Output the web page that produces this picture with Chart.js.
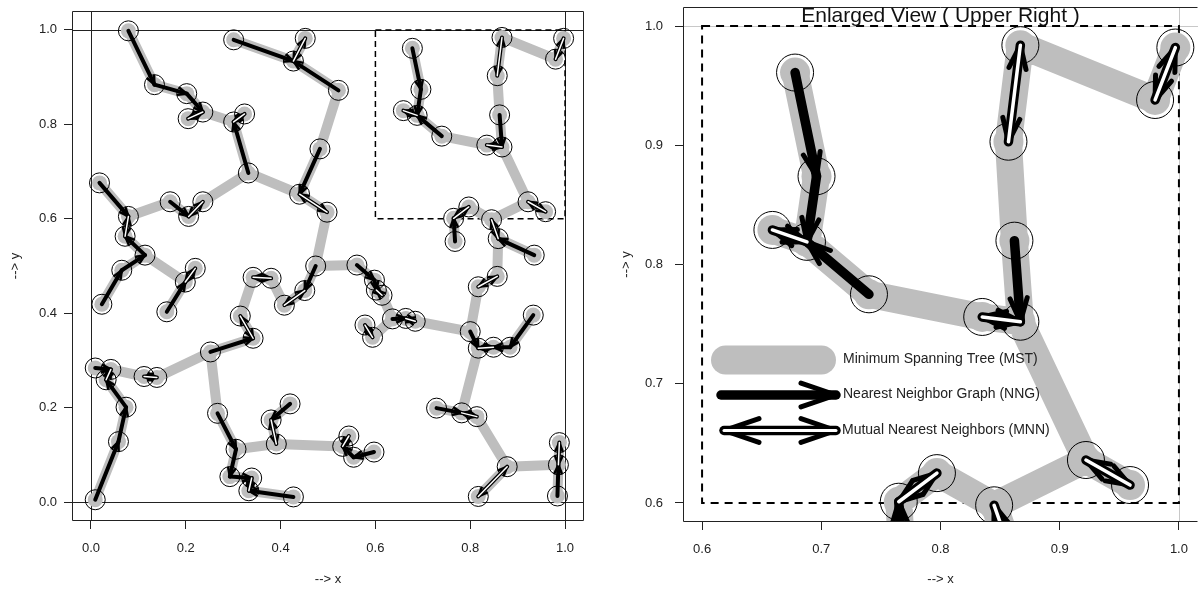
<!DOCTYPE html>
<html><head><meta charset="utf-8">
<script src="https://cdn.jsdelivr.net/npm/chart.js@4"></script>
<style>
html,body{margin:0;padding:0;background:#fff;width:1198px;height:590px;overflow:hidden}
#c1{position:absolute;left:0;top:0}
#c2{position:absolute;left:600px;top:0}
</style></head><body>
<canvas id="c1" width="600" height="590"></canvas>
<canvas id="c2" width="598" height="590"></canvas>
<script>
const FONT = "'Liberation Sans', Arial, Helvetica, sans-serif";

// point coordinates
const xs = [0.079,0.134,0.202,0.236,0.205,0.324,0.301,0.332,0.301,0.452,
            0.427,0.018,0.079,0.072,0.167,0.206,0.236,0.440,0.522,0.483,
            0.498,0.678,0.696,0.659,0.688,0.740,0.867,0.857,0.862,0.835,
            0.867,0.997,0.980,0.922,0.959,0.797,0.765,0.768,0.845,0.859,
            0.935,0.114,0.065,0.023,0.220,0.199,0.160,0.342,0.380,0.408,
            0.451,0.474,0.315,0.342,0.252,0.009,0.042,0.032,0.112,0.139,
            0.074,0.058,0.009,0.267,0.306,0.293,0.339,0.333,0.427,0.420,
            0.380,0.391,0.561,0.598,0.602,0.614,0.636,0.664,0.684,0.578,
            0.594,0.800,0.817,0.849,0.884,0.933,0.817,0.857,0.729,0.782,
            0.814,0.878,0.817,0.988,0.986,0.984,0.544,0.531,0.554,0.597];
const ys = [0.998,0.884,0.865,0.826,0.812,0.822,0.805,0.697,0.979,0.982,
            0.934,0.676,0.605,0.563,0.636,0.605,0.636,0.652,0.872,0.748,
            0.614,0.961,0.874,0.829,0.819,0.775,0.984,0.903,0.820,0.756,
            0.752,0.982,0.938,0.636,0.615,0.625,0.601,0.552,0.598,0.558,
            0.523,0.523,0.491,0.419,0.495,0.466,0.403,0.476,0.474,0.417,
            0.448,0.500,0.394,0.347,0.318,0.284,0.281,0.259,0.266,0.264,
            0.201,0.128,0.005,0.188,0.112,0.054,0.051,0.024,0.011,0.208,
            0.174,0.123,0.502,0.470,0.449,0.438,0.388,0.389,0.383,0.375,
            0.349,0.361,0.326,0.328,0.328,0.396,0.456,0.478,0.199,0.189,
            0.181,0.075,0.012,0.126,0.079,0.013,0.140,0.118,0.095,0.106];

const leftTicks = [0.0, 0.2, 0.4, 0.6, 0.8, 1.0];
const rightTicks = [0.6, 0.7, 0.8, 0.9, 1.0];
const refValues = [0, 1];
const zoomBox = [0.6, 0.6, 1.0, 1.0];
const titleText = 'Enlarged View ( Upper Right )';
const legendLabels = ['Minimum Spanning Tree (MST)', 'Nearest Neighbor Graph (NNG)', 'Mutual Nearest Neighbors (MNN)'];

// ---- graphs from the points ----
const n = xs.length;
const d2 = (i, j) => { const dx = xs[i]-xs[j], dy = ys[i]-ys[j]; return dx*dx+dy*dy; };
const nn = xs.map((_, i) => { let b=-1, bd=Infinity; for (let j=0;j<n;j++) if (j!==i) { const d=d2(i,j); if (d<bd){bd=d;b=j;} } return b; });
const mst = [];
(function(){
  const inT = new Array(n).fill(false), best = new Array(n).fill(Infinity), par = new Array(n).fill(-1);
  best[0] = 0;
  for (let k=0;k<n;k++){
    let u=-1; for (let i=0;i<n;i++) if(!inT[i] && (u<0 || best[i]<best[u])) u=i;
    inT[u]=true; if (par[u]>=0) mst.push([par[u],u]);
    for (let v=0;v<n;v++) if(!inT[v]) { const d=d2(u,v); if (d<best[v]) {best[v]=d; par[v]=u;} }
  }
})();
const single = [], mutual = [];
for (let i=0;i<n;i++){ const j=nn[i]; if (nn[j]===i) { if (i<j) mutual.push([i,j]); } else single.push([i,j]); }
const pts = xs.map((x,i)=>({x, y: ys[i]}));

function head(ctx, x1,y1,x2,y2,len,ang){
  const a = Math.atan2(y2-y1, x2-x1);
  ctx.beginPath();
  ctx.moveTo(x2 - len*Math.cos(a-ang), y2 - len*Math.sin(a-ang));
  ctx.lineTo(x2, y2);
  ctx.lineTo(x2 - len*Math.cos(a+ang), y2 - len*Math.sin(a+ang));
  ctx.stroke();
}
function arrow(ctx, x1,y1,x2,y2,o,both){
  ctx.strokeStyle='#000'; ctx.lineCap='round'; ctx.lineJoin='round';
  ctx.lineWidth=o.shaftW;
  ctx.beginPath(); ctx.moveTo(x1,y1); ctx.lineTo(x2,y2); ctx.stroke();
  ctx.lineWidth=o.armW;
  head(ctx,x1,y1,x2,y2,o.headLen,o.headAng);
  if (both) {
    head(ctx,x2,y2,x1,y1,o.headLen,o.headAng);
    ctx.strokeStyle='#fff'; ctx.lineWidth=o.whiteW;
    ctx.beginPath(); ctx.moveTo(x1,y1); ctx.lineTo(x2,y2); ctx.stroke();
  }
}

const netPlugin = {
  id: 'net',
  beforeDatasetsDraw(chart, args, o) {
    const {ctx, chartArea:a, scales:{x, y}} = chart;
    ctx.save();
    ctx.beginPath(); ctx.rect(a.left, a.top, a.right-a.left, a.bottom-a.top); ctx.clip();
    ctx.strokeStyle = o.refColor; ctx.lineWidth = 1;
    for (const v of refValues) {
      const px = Math.round(x.getPixelForValue(v))+0.5, py = Math.round(y.getPixelForValue(v))+0.5;
      ctx.beginPath(); ctx.moveTo(px, a.top); ctx.lineTo(px, a.bottom); ctx.stroke();
      ctx.beginPath(); ctx.moveTo(a.left, py); ctx.lineTo(a.right, py); ctx.stroke();
    }
    ctx.strokeStyle = '#000'; ctx.lineWidth = o.dashW; ctx.setLineDash(o.dash);
    const bx1 = x.getPixelForValue(zoomBox[0]), by1 = y.getPixelForValue(zoomBox[1]);
    const bx2 = x.getPixelForValue(zoomBox[2]), by2 = y.getPixelForValue(zoomBox[3]);
    ctx.strokeRect(bx1, by2, bx2-bx1, by1-by2);
    ctx.setLineDash([]);
    ctx.strokeStyle = '#bebebe'; ctx.lineWidth = o.mstW; ctx.lineCap = 'round';
    ctx.beginPath();
    for (const [i,j] of mst) {
      ctx.moveTo(x.getPixelForValue(xs[i]), y.getPixelForValue(ys[i]));
      ctx.lineTo(x.getPixelForValue(xs[j]), y.getPixelForValue(ys[j]));
    }
    ctx.stroke();
    ctx.restore();
  },
  afterDatasetsDraw(chart, args, o) {
    const {ctx, chartArea:a, scales:{x, y}} = chart;
    ctx.save();
    ctx.beginPath(); ctx.rect(a.left, a.top, a.right-a.left, a.bottom-a.top); ctx.clip();
    const P = i => [x.getPixelForValue(xs[i]), y.getPixelForValue(ys[i])];
    for (const [i,j] of single) { const [x1,y1]=P(i), [x2,y2]=P(j); arrow(ctx,x1,y1,x2,y2,o,false); }
    for (const [i,j] of mutual) { const [x1,y1]=P(i), [x2,y2]=P(j); arrow(ctx,x1,y1,x2,y2,o,true); }
    ctx.restore();
  },
  afterDraw(chart, args, o) {
    const {ctx, chartArea:a} = chart;
    ctx.save();
    ctx.strokeStyle = '#222'; ctx.lineWidth = 1;
    const L = Math.round(a.left)+0.5, T = Math.round(a.top)+0.5, B = Math.round(a.bottom)-0.5, R = Math.round(a.right)-0.5;
    ctx.beginPath();
    ctx.moveTo(L, T); ctx.lineTo(L, B); ctx.lineTo(R, B);
    ctx.moveTo(L, T); ctx.lineTo(R, T);
    if (o.rightBorder) { ctx.moveTo(R, T); ctx.lineTo(R, B); }
    ctx.stroke();
    if (o.title) {
      ctx.fillStyle = '#111'; ctx.font = '21px ' + FONT; ctx.textAlign = 'center'; ctx.textBaseline = 'middle';
      ctx.fillText(titleText, (a.left + a.right) / 2, 16);
    }
    if (o.legend) {
      const lx = 111, lr = 236;
      ctx.lineCap = 'round';
      ctx.strokeStyle = '#bebebe'; ctx.lineWidth = 29;
      ctx.beginPath(); ctx.moveTo(lx+14.5, 360); ctx.lineTo(lr-14.5, 360); ctx.stroke();
      const lo = {shaftW: 9.5, armW: 5, headLen: 37, headAng: 0.33, whiteW: 3};
      arrow(ctx, 121, 395, lr, 395, lo, false);
      arrow(ctx, 124, 430.5, lr, 430.5, lo, true);
      ctx.fillStyle = '#222'; ctx.font = '14px ' + FONT; ctx.textAlign = 'left'; ctx.textBaseline = 'middle';
      ctx.fillText(legendLabels[0], 243, 359);
      ctx.fillText(legendLabels[1], 243, 394);
      ctx.fillText(legendLabels[2], 242, 430);
    }
    ctx.restore();
  }
};

function makeChart(id, cfg) {
  const tickFont = {family: FONT, size: 13};
  const axis = (ticksArr, min, max, sizeFn, pad, titleText, titlePad) => ({
    type: 'linear', min, max,
    afterBuildTicks: s => { s.ticks = ticksArr.map(v => ({value: v})); },
    afterFit: sizeFn,
    grid: {display: true, drawOnChartArea: false, drawTicks: true, tickLength: 8, tickColor: '#222', tickWidth: 1},
    border: {display: false},
    ticks: {callback: v => Number(v).toFixed(1), font: tickFont, color: '#222', padding: pad, maxRotation: 0, autoSkip: false},
    title: {display: true, text: titleText, font: tickFont, color: '#222', padding: titlePad}
  });
  return new Chart(document.getElementById(id), {
    type: 'scatter',
    data: {datasets: [
      {data: pts, pointRadius: cfg.diskR, pointBackgroundColor: '#bebebe', pointBorderWidth: 0, pointBorderColor: 'rgba(0,0,0,0)', clip: 0, order: 2},
      {data: pts, pointRadius: cfg.circR, pointBackgroundColor: 'rgba(0,0,0,0)', pointBorderColor: '#000', pointBorderWidth: 1, clip: 0, order: 1}
    ]},
    options: {
      responsive: false, animation: false, events: [],
      layout: {padding: cfg.padding, autoPadding: false},
      plugins: {legend: {display: false}, tooltip: {enabled: false}, net: cfg.net},
      scales: {
        x: axis(cfg.ticks, cfg.min, cfg.max, s => { s.height = cfg.xH; s.paddingLeft = 0; s.paddingRight = 0; }, cfg.xPad, '--> x', {top: 0, bottom: 3}),
        y: axis(cfg.ticks, cfg.min, cfg.max, s => { s.width = cfg.yW; s.paddingTop = 0; s.paddingBottom = 0; }, cfg.yPad, '--> y', {top: cfg.yTitlePad, bottom: 0})
      }
    },
    plugins: [netPlugin]
  });
}

makeChart('c1', {
  ticks: leftTicks, min: -0.04, max: 1.04, xH: 69, yW: 72, xPad: 12, yPad: 7, yTitlePad: 8,
  padding: {top: 11, right: 16, left: 0, bottom: 0}, diskR: 7.5, circR: 10,
  net: {refColor: '#222', dashW: 1.5, dash: [6, 4], mstW: 10, shaftW: 4, armW: 2.5, headLen: 9, headAng: 0.4, whiteW: 1.5, rightBorder: true, title: false, legend: false}
});
makeChart('c2', {
  ticks: rightTicks, min: 0.584, max: 1.016, xH: 68, yW: 83, xPad: 12, yPad: 12, yTitlePad: 19,
  padding: {top: 7, right: 0, left: 0, bottom: 0}, diskR: 15, circR: 18.5,
  net: {refColor: '#c8c8c8', dashW: 2, dash: [8, 6], mstW: 27, shaftW: 9.5, armW: 5, headLen: 25, headAng: 0.35, whiteW: 3.5, rightBorder: false, title: true, legend: true}
});
</script>
</body></html>
